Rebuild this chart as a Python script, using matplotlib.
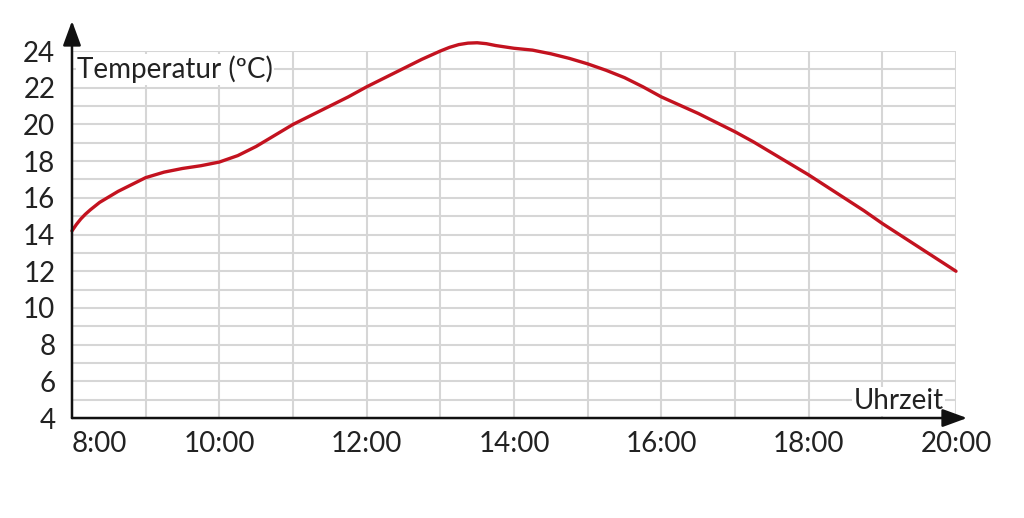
import numpy as np
import matplotlib.pyplot as plt

# Temperaturverlauf (Stunde, Grad C)
hours = [8.00, 8.06, 8.12, 8.18, 8.25, 8.375, 8.50, 8.625, 8.75, 8.875, 9.00, 9.25, 9.50,
         9.75, 10.00, 10.25, 10.50, 10.75, 11.00, 11.25, 11.50, 11.75, 12.00, 12.25,
         12.50, 12.75, 13.00, 13.125, 13.25, 13.375, 13.50, 13.625, 13.75, 14.00,
         14.25, 14.50, 14.75, 15.00, 15.25, 15.50, 15.75, 16.00, 16.25, 16.50, 16.75,
         17.00, 17.25, 17.50, 17.75, 18.00, 18.25, 18.50, 18.75, 19.00, 19.25, 19.50,
         19.75, 20.00]
temps = [14.2, 14.55, 14.85, 15.1, 15.35, 15.75, 16.05, 16.35, 16.6, 16.85, 17.1, 17.4, 17.6,
         17.75, 17.95, 18.3, 18.8, 19.4, 20.0, 20.5, 21.0, 21.5, 22.05, 22.55,
         23.05, 23.55, 24.0, 24.2, 24.35, 24.43, 24.45, 24.4, 24.3, 24.15,
         24.05, 23.85, 23.6, 23.3, 22.95, 22.55, 22.05, 21.5, 21.05, 20.6, 20.1,
         19.6, 19.05, 18.45, 17.85, 17.25, 16.6, 15.95, 15.3, 14.6, 13.95, 13.3,
         12.65, 12.0]

x_ticks = [8, 10, 12, 14, 16, 18, 20]
x_labels = ["8:00", "10:00", "12:00", "14:00", "16:00", "18:00", "20:00"]
y_ticks = [4, 6, 8, 10, 12, 14, 16, 18, 20, 22, 24]

plt.rcParams['font.family'] = ['Lato', 'DejaVu Sans']
FS = 20
TXT = '#222222'

fig = plt.figure(figsize=(10.24, 5.18), dpi=100)
ax = fig.add_axes([0.0703, 0.193, 0.8633, 0.7085])

ax.set_xlim(8, 20)
ax.set_ylim(4, 24)

# grid every hour / every degree
ax.set_xticks(np.arange(8, 21, 1), minor=True)
ax.set_yticks(np.arange(4, 25, 1), minor=True)
ax.grid(True, which='minor', color='#d6d6d6', lw=1.5, zorder=0)
ax.grid(True, which='major', color='#d6d6d6', lw=1.5, zorder=0)
ax.tick_params(which='both', length=0)

ax.set_xticks(x_ticks)
ax.set_xticklabels(x_labels, fontsize=FS, color=TXT)
ax.set_yticks(y_ticks)
ax.set_yticklabels([str(v) for v in y_ticks], fontsize=FS, color=TXT)
ax.tick_params(axis='x', pad=9)
ax.tick_params(axis='y', pad=12)
ax.get_xticklabels()[0].set_horizontalalignment('left')

for s in ax.spines.values():
    s.set_visible(False)

# axes with arrow heads
arrow = dict(arrowstyle='-|>,head_length=15,head_width=5.5', mutation_scale=1,
             color='#111111', lw=1.8, shrinkA=0, shrinkB=0)
ax.annotate('', xy=(0, 1.082), xytext=(0, 0), xycoords='axes fraction',
            arrowprops=arrow, annotation_clip=False, zorder=5)
ax.annotate('', xy=(1.0125, 0), xytext=(0, 0), xycoords='axes fraction',
            arrowprops=arrow, annotation_clip=False, zorder=5)

ax.plot(hours, temps, color='#c3121f', lw=2.4, zorder=4,
        solid_capstyle='round', solid_joinstyle='round', clip_on=False)

ax.text(8.07, 23.0, "Temperatur (ºC)", fontsize=FS, color=TXT,
        ha='left', va='center', zorder=3,
        bbox=dict(facecolor='white', edgecolor='none', pad=1))
ax.text(19.83, 4.2, "Uhrzeit", fontsize=FS, color=TXT,
        ha='right', va='bottom', zorder=3,
        bbox=dict(facecolor='white', edgecolor='none', pad=1))

fig.savefig("out.png", dpi=100)
